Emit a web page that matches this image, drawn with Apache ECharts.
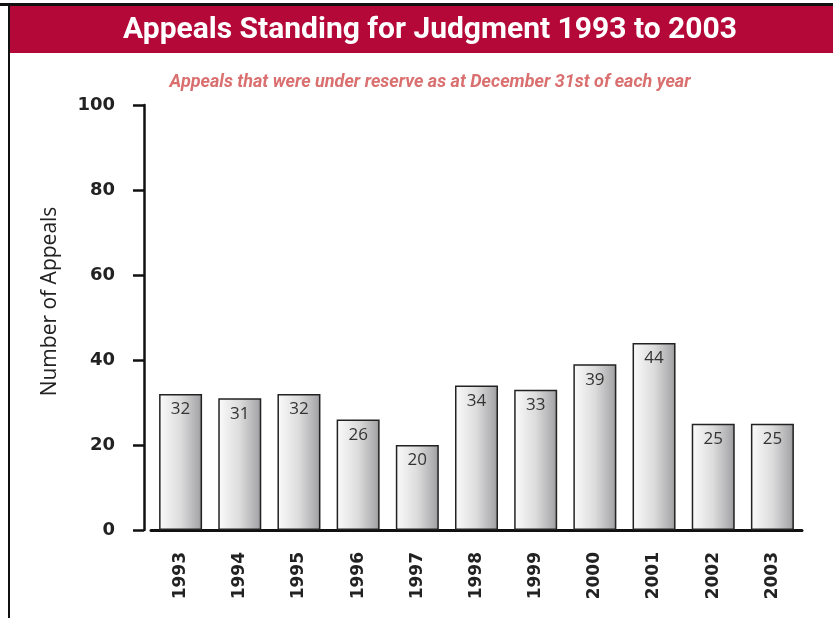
<!DOCTYPE html>
<html>
<head>
<meta charset="utf-8">
<script src="https://cdn.jsdelivr.net/npm/echarts@6/dist/echarts.min.js"></script>
<style>
  html, body { margin: 0; padding: 0; background: #fff; }
  #chart { width: 833px; height: 618px; }
</style>
</head>
<body>
<div id="chart"></div>
<script>
// values
var years = ["1993", "1994", "1995", "1996", "1997", "1998", "1999", "2000", "2001", "2002", "2003"];
var appeals = [32, 31, 32, 26, 20, 34, 33, 39, 44, 25, 25];
var yTicks = [0, 20, 40, 60, 80, 100];

var barFill = new echarts.graphic.LinearGradient(0, 0, 1, 0, [
  { offset: 0, color: "#fbfbfb" },
  { offset: 0.5, color: "#dcdcdd" },
  { offset: 0.92, color: "#a9a9ab" },
  { offset: 1, color: "#8f8f91" }
]);

var chart = echarts.init(document.getElementById("chart"));
chart.setOption({
  animation: false,
  backgroundColor: "#fff",
  title: [
    {
      text: "Appeals Standing for Judgment 1993 to 2003",
      left: 425,
      top: 10,
      textAlign: "center",
      textStyle: {
        color: "#fff",
        fontFamily: "Roboto",
        fontWeight: "bold",
        fontSize: 30
      }
    },
    {
      text: "Appeals that were under reserve as at December 31st of each year",
      left: 425,
      top: 68,
      textAlign: "center",
      textStyle: {
        color: "#d9706f",
        fontFamily: "Roboto",
        fontStyle: "italic",
        fontWeight: "bold",
        fontSize: 18
      }
    }
  ],
  graphic: [
    { type: "rect", z: -1, shape: { x: 0, y: 3, width: 833, height: 3 }, style: { fill: "#111" } },
    { type: "rect", z: -1, shape: { x: 8, y: 3, width: 2, height: 615 }, style: { fill: "#111" } },
    { type: "rect", z: -1, shape: { x: 10, y: 6, width: 823, height: 47 }, style: { fill: "#b30838" } }
  ],
  grid: { left: 151, right: 31, top: 105, bottom: 88 },
  xAxis: {
    type: "category",
    data: years,
    axisLine: { lineStyle: { color: "#111", width: 3 } },
    axisTick: { show: false },
    axisLabel: {
      rotate: 90,
      margin: 22,
      color: "#222",
      fontFamily: "DejaVu Sans",
      fontWeight: "bold",
      fontSize: 17
    }
  },
  yAxis: {
    type: "value",
    min: 0,
    max: 100,
    interval: 20,
    offset: 7,
    name: "Number of Appeals",
    nameLocation: "middle",
    nameGap: 83,
    nameTextStyle: { color: "#222", fontFamily: "Open Sans", fontSize: 21, padding: [0, 0, 0, 32] },
    axisLine: { show: true, lineStyle: { color: "#111", width: 2.5 } },
    axisTick: { show: true, length: 11, lineStyle: { color: "#111", width: 2.5 } },
    splitLine: { show: false },
    axisLabel: {
      margin: 29,
      color: "#222",
      fontFamily: "DejaVu Sans",
      fontWeight: "bold",
      fontSize: 18,
      formatter: function (v) { return yTicks.indexOf(v) >= 0 ? String(v) : ""; }
    }
  },
  series: [
    {
      type: "bar",
      data: appeals,
      barWidth: 43,
      itemStyle: { color: barFill, borderColor: "#222", borderWidth: 1.5 },
      label: {
        show: true,
        position: "insideTop",
        distance: 7,
        color: "#333",
        fontFamily: "Open Sans",
        fontSize: 17
      }
    }
  ]
});
</script>
</body>
</html>
